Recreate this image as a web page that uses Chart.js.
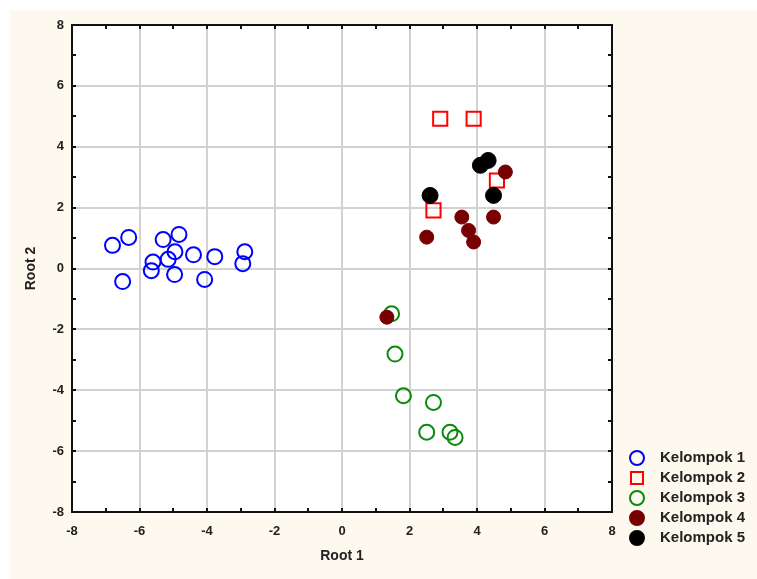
<!DOCTYPE html>
<html>
<head>
<meta charset="utf-8">
<script src="https://cdn.jsdelivr.net/npm/chart.js@4.4.0/dist/chart.umd.min.js"></script>
<style>
    html, body { margin: 0; padding: 0; background: #ffffff; }
    canvas { display: block; }
</style>
</head>
<body>
<canvas id="rootChart" width="757" height="579"></canvas>
<script>
// Values (Root 1 vs Root 2)
const seriesNames = ['Kelompok 1', 'Kelompok 2', 'Kelompok 3', 'Kelompok 4', 'Kelompok 5'];

const kelompok1X = [-6.80, -6.32, -6.50, -5.60, -5.65, -5.30, -4.83, -4.95, -4.40, -4.96, -4.07, -3.77, -2.88, -2.94, -5.15];
const kelompok1Y = [0.76, 1.02, -0.43, 0.21, -0.07, 0.95, 1.12, 0.55, 0.45, -0.20, -0.36, 0.39, 0.55, 0.16, 0.30];

const kelompok2X = [2.91, 3.90, 2.71, 4.59];
const kelompok2Y = [4.92, 4.92, 1.91, 2.89];

const kelompok3X = [1.47, 1.57, 1.82, 2.71, 2.51, 3.20, 3.35];
const kelompok3Y = [-1.49, -2.81, -4.18, -4.40, -5.38, -5.38, -5.55];

const kelompok4X = [4.84, 3.55, 3.75, 3.90, 4.49, 2.51, 1.33];
const kelompok4Y = [3.17, 1.69, 1.25, 0.87, 1.69, 1.03, -1.60];

const kelompok5X = [4.10, 4.33, 2.61, 4.49];
const kelompok5Y = [3.39, 3.55, 2.40, 2.40];

const axisMin = -8;
const axisMax = 8;

function toPoints(xs, ys) {
    return xs.map((x, i) => ({ x: x, y: ys[i] }));
}

// paper background, white plot area
const backgroundPlugin = {
    id: 'background',
    beforeDraw(chart) {
        const ctx = chart.ctx;
        const area = chart.chartArea;
        ctx.save();
        ctx.fillStyle = '#ffffff';
        ctx.fillRect(0, 0, chart.width, chart.height);
        ctx.fillStyle = '#fdf9ee';
        ctx.fillRect(10, 10, chart.width - 10, chart.height - 10);
        ctx.fillStyle = '#ffffff';
        ctx.fillRect(area.left, area.top, area.right - area.left, area.bottom - area.top);
        ctx.restore();
    }
};

// black frame with small inward ticks at every unit
const framePlugin = {
    id: 'frame',
    afterDatasetsDraw(chart) {
        const ctx = chart.ctx;
        const area = chart.chartArea;
        const xs = chart.scales.x;
        const ys = chart.scales.y;
        ctx.save();
        ctx.strokeStyle = '#111111';
        ctx.lineWidth = 2;
        ctx.strokeRect(area.left, area.top, area.right - area.left, area.bottom - area.top);
        for (let v = axisMin + 1; v < axisMax; v++) {
            const px = Math.round(xs.getPixelForValue(v));
            const py = Math.round(ys.getPixelForValue(v));
            ctx.beginPath();
            ctx.moveTo(px, area.top); ctx.lineTo(px, area.top + 4);
            ctx.moveTo(px, area.bottom); ctx.lineTo(px, area.bottom - 4);
            ctx.moveTo(area.left, py); ctx.lineTo(area.left + 4, py);
            ctx.moveTo(area.right, py); ctx.lineTo(area.right - 4, py);
            ctx.stroke();
        }
        ctx.restore();
    }
};

// legend in the lower right corner
const legendPlugin = {
    id: 'cornerLegend',
    afterDraw(chart) {
        const ctx = chart.ctx;
        ctx.save();
        ctx.font = 'bold 15px "Liberation Sans", Arial, sans-serif';
        ctx.textBaseline = 'middle';
        chart.data.datasets.forEach((ds, i) => {
            const cx = 637;
            const cy = 458 + i * 20;
            ctx.lineWidth = 2;
            ctx.strokeStyle = ds.borderColor;
            ctx.fillStyle = ds.backgroundColor;
            ctx.beginPath();
            if (ds.pointStyle === 'rect') {
                ctx.rect(cx - 6, cy - 6, 12, 12);
            } else {
                ctx.arc(cx, cy, 7, 0, Math.PI * 2);
            }
            ctx.fill();
            ctx.stroke();
            ctx.fillStyle = '#222222';
            ctx.fillText(ds.label, 660, cy);
        });
        ctx.restore();
    }
};

const tickFont = { family: '"Liberation Sans", Arial, sans-serif', size: 13, weight: 'bold' };
const titleFont = { family: '"Liberation Sans", Arial, sans-serif', size: 14, weight: 'bold' };

function evenGrid(context) {
    return context.tick && context.tick.value % 2 === 0 ? '#d2d2d2' : 'rgba(0,0,0,0)';
}

function evenLabel(value) {
    return value % 2 === 0 ? value : '';
}

const ctx = document.getElementById('rootChart').getContext('2d');
new Chart(ctx, {
    type: 'scatter',
    data: {
        datasets: [
            {
                label: seriesNames[0],
                data: toPoints(kelompok1X, kelompok1Y),
                pointStyle: 'circle',
                pointRadius: 7.5,
                borderColor: '#0000ff',
                backgroundColor: 'rgba(0,0,0,0)',
                borderWidth: 2,
                order: 5
            },
            {
                label: seriesNames[1],
                data: toPoints(kelompok2X, kelompok2Y),
                pointStyle: 'rect',
                pointRadius: 10,
                borderColor: '#ff0000',
                backgroundColor: 'rgba(0,0,0,0)',
                borderWidth: 2,
                order: 4
            },
            {
                label: seriesNames[2],
                data: toPoints(kelompok3X, kelompok3Y),
                pointStyle: 'circle',
                pointRadius: 7.5,
                borderColor: '#0a8a0a',
                backgroundColor: 'rgba(0,0,0,0)',
                borderWidth: 2,
                order: 3
            },
            {
                label: seriesNames[3],
                data: toPoints(kelompok4X, kelompok4Y),
                pointStyle: 'circle',
                pointRadius: 7,
                borderColor: '#780000',
                backgroundColor: '#780000',
                borderWidth: 1,
                order: 2
            },
            {
                label: seriesNames[4],
                data: toPoints(kelompok5X, kelompok5Y),
                pointStyle: 'circle',
                pointRadius: 8,
                borderColor: '#000000',
                backgroundColor: '#000000',
                borderWidth: 1,
                order: 1
            }
        ]
    },
    options: {
        responsive: false,
        animation: false,
        layout: {
            padding: { left: 0, top: 25, right: 145, bottom: 0 }
        },
        plugins: {
            legend: { display: false },
            tooltip: { enabled: false }
        },
        scales: {
            x: {
                type: 'linear',
                min: axisMin,
                max: axisMax,
                afterFit(scale) { scale.height = 67; },
                border: { display: false },
                grid: { color: evenGrid, lineWidth: 2, drawTicks: false },
                ticks: {
                    stepSize: 1,
                    autoSkip: false,
                    maxRotation: 0,
                    padding: 12,
                    color: '#222222',
                    font: tickFont,
                    callback: evenLabel
                },
                title: {
                    display: true,
                    text: 'Root 1',
                    color: '#222222',
                    font: titleFont,
                    padding: { top: 0, bottom: 14 }
                }
            },
            y: {
                type: 'linear',
                min: axisMin,
                max: axisMax,
                afterFit(scale) { scale.width = 72; },
                border: { display: false },
                grid: { color: evenGrid, lineWidth: 2, drawTicks: false },
                ticks: {
                    stepSize: 1,
                    autoSkip: false,
                    padding: 8,
                    color: '#222222',
                    font: tickFont,
                    callback: evenLabel
                },
                title: {
                    display: true,
                    text: 'Root 2',
                    color: '#222222',
                    font: titleFont,
                    padding: { top: 23, bottom: 0 }
                }
            }
        }
    },
    plugins: [backgroundPlugin, framePlugin, legendPlugin]
});
</script>
</body>
</html>
